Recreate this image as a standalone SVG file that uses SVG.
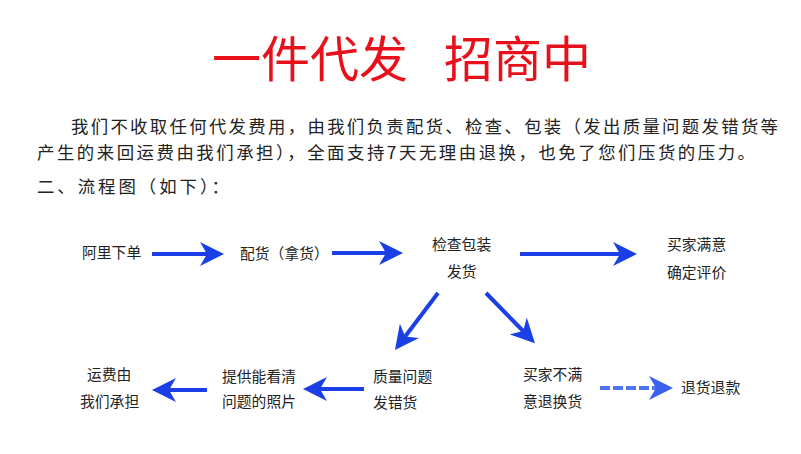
<svg xmlns="http://www.w3.org/2000/svg" width="801" height="454" viewBox="0 0 801 454">
<style>
.title{font-family:"Noto Sans CJK SC","Noto Sans",sans-serif;font-size:49px;fill:#e8101a}
.para{font-family:"Noto Sans CJK SC","Noto Sans",sans-serif;font-size:17.4px;fill:#222}
.lbl{font-family:"Noto Sans CJK SC","Noto Sans",sans-serif;font-size:14.8px;fill:#222}
.arr{stroke:#1a3fe6;stroke-width:4;fill:none;marker-end:url(#head)}
.arr-f{stroke:#4f74ee;stroke-width:4;fill:none;stroke-dasharray:10 3;marker-end:url(#headf)}
</style>
<defs>
<marker id="head" viewBox="0 0 24 24" refX="14" refY="12" markerWidth="24" markerHeight="24" markerUnits="userSpaceOnUse" orient="auto">
<path d="M24,12 L0,0 L7,12 L0,24 Z" fill="#1a3fe6"/>
</marker>
<marker id="headf" viewBox="0 0 24 24" refX="14" refY="12" markerWidth="24" markerHeight="24" markerUnits="userSpaceOnUse" orient="auto">
<path d="M24,12 L0,0 L7,12 L0,24 Z" fill="#3a62ec"/>
</marker>
</defs>
<rect width="801" height="454" fill="#fff"/>
<g id="title">
<text class="title" x="212" y="77">一件代发</text>
<text class="title" x="444" y="77">招商中</text>
</g>
<g id="intro">
<text class="para" x="71" y="133" textLength="707" lengthAdjust="spacing">我们不收取任何代发费用，由我们负责配货、检查、包装（发出质量问题发错货等</text>
<text class="para" x="37" y="159" textLength="718" lengthAdjust="spacing">产生的来回运费由我们承担），全面支持7天无理由退换，也免了您们压货的压力。</text>
<text class="para" x="37" y="193" textLength="192" lengthAdjust="spacing">二、流程图（如下）：</text>
</g>
<g id="connectors">
<path class="arr" d="M152,254 H214"/>
<path class="arr" d="M332,253 H393"/>
<path class="arr" d="M520,254 H627"/>
<path class="arr" d="M438,293 L401,342"/>
<path class="arr" d="M486,293 L528,336"/>
<path class="arr" d="M364,389 H313"/>
<path class="arr" d="M207,390 H162"/>
<path class="arr-f" d="M600,388 H663"/>
</g>
<g id="n-order"><text class="lbl" x="82" y="258">阿里下单</text></g>
<g id="n-pick"><text class="lbl" x="240" y="259">配货（拿货）</text></g>
<g id="n-check"><text class="lbl" x="432" y="250">检查包装</text><text class="lbl" x="447" y="277">发货</text></g>
<g id="n-satisfied"><text class="lbl" x="667" y="250">买家满意</text><text class="lbl" x="667" y="278">确定评价</text></g>
<g id="n-quality"><text class="lbl" x="373" y="382">质量问题</text><text class="lbl" x="373" y="408">发错货</text></g>
<g id="n-unsatisfied"><text class="lbl" x="523" y="380">买家不满</text><text class="lbl" x="523" y="407">意退换货</text></g>
<g id="n-refund"><text class="lbl" x="681" y="393">退货退款</text></g>
<g id="n-photo"><text class="lbl" x="222" y="382">提供能看清</text><text class="lbl" x="222" y="407">问题的照片</text></g>
<g id="n-cost"><text class="lbl" x="87" y="380">运费由</text><text class="lbl" x="80" y="407">我们承担</text></g>
</svg>
